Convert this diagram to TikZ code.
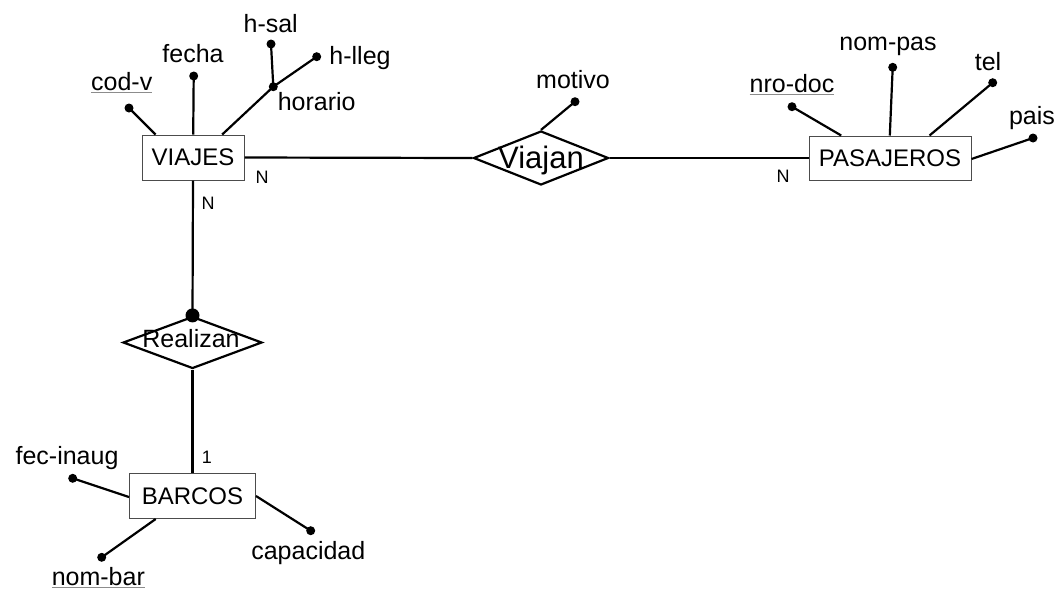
\documentclass[tikz,border=0pt]{standalone}
\usepackage{fontspec}
\setmainfont{Liberation Sans}
\usetikzlibrary{shapes.geometric}
\newcommand{\keyattr}[1]{{\color{black!45}\underline{\color{black}#1}}}
\begin{document}
\begin{tikzpicture}[x=1pt,y=-1pt,
  entity/.style={draw=black!70, line width=1pt, fill=white, inner sep=0pt,
    font=\fontsize{24}{28}\selectfont},
  relation/.style={draw=black, line width=2.2pt, diamond, inner sep=0pt},
  rellabel/.style={inner sep=0pt},
  attrdot/.style={circle, fill=black, inner sep=0pt, minimum size=9pt},
  attrlabel/.style={inner sep=0pt, font=\fontsize{25}{29}\selectfont},
  card/.style={inner sep=0pt, font=\fontsize{18}{21}\selectfont},
  link/.style={line width=2.2pt, draw=black}]
\useasboundingbox (0,0) rectangle (1056,590);

% entities
\node[entity, minimum width=102pt, minimum height=45pt] (viajes) at (193,157.5) {VIAJES};
\node[entity, minimum width=162pt, minimum height=44pt] (pasajeros) at (890,158) {PASAJEROS};
\node[entity, minimum width=126pt, minimum height=45pt] (barcos) at (192.5,496) {BARCOS};

% relationships
\node[relation, minimum width=135pt, minimum height=54pt] (viajan) at (541,158) {};
\node[rellabel, font=\fontsize{31}{36}\selectfont] (viajantxt) at (541,160) {Viajan};
\node[relation, minimum width=139pt, minimum height=52pt] (realizan) at (192.5,342.5) {};
\node[rellabel, font=\fontsize{25}{29}\selectfont] (realizantxt) at (191,339) {Realizan};

% relationship connectors
\draw[link] (viajes.east) -- (viajan.west);
\draw[link] (viajan.east) -- (pasajeros.west);
\draw[link] (viajes.south) -- (realizan.north);
\draw[link] (realizan.south) -- (barcos.north);
\node[circle, fill=black, inner sep=0pt, minimum size=14pt] (realizandot) at (realizan.north) {};

% cardinalities
\node[card] (cardvh) at (262,177) {N};
\node[card] (cardph) at (783,176) {N};
\node[card] (cardvv) at (208,203) {N};
\node[card] (cardb) at (207,457) {1};

% VIAJES attributes
\coordinate (vcod) at ([xshift=14pt]viajes.north west);
\coordinate (vfec) at ([xshift=51.7pt]viajes.north west);
\coordinate (vhor) at ([xshift=80.7pt]viajes.north west);
\node[attrdot] (codv) at (129,108) {};
\node[attrdot] (fecha) at (193.7,76) {};
\node[attrdot] (horario) at (273.3,86.7) {};
\node[attrdot] (hsal) at (271,44) {};
\node[attrdot] (hlleg) at (316.7,56.7) {};
\draw[link] (vcod) -- (codv.center);
\draw[link] (vfec) -- (fecha.center);
\draw[link] (vhor) -- (horario.center);
\draw[link] (horario.center) -- (hsal.center);
\draw[link] (horario.center) -- (hlleg.center);
\node[attrlabel] (codvtxt) at (121.7,83) {\keyattr{cod-v}};
\node[attrlabel] (fechatxt) at (193,54) {fecha};
\node[attrlabel] (hsaltxt) at (270.7,24) {h-sal};
\node[attrlabel] (hllegtxt) at (360,58) {h-lleg};
\node[attrlabel] (horariotxt) at (316.7,101.7) {horario};

% Viajan attribute
\node[attrdot] (motivo) at (575,101.7) {};
\draw[link] (viajan.north) -- (motivo.center);
\node[attrlabel] (motivotxt) at (573,80) {motivo};

% PASAJEROS attributes
\coordinate (pnro) at ([xshift=32.7pt]pasajeros.north west);
\coordinate (pnom) at ([xshift=81.3pt]pasajeros.north west);
\coordinate (ptel) at ([xshift=121pt]pasajeros.north west);
\coordinate (ppais) at ([yshift=-1pt]pasajeros.east);
\node[attrdot] (nrodoc) at (792,106.7) {};
\node[attrdot] (nompas) at (892.7,67.3) {};
\node[attrdot] (tel) at (992.7,82.7) {};
\node[attrdot] (pais) at (1033,138) {};
\draw[link] (pnro) -- (nrodoc.center);
\draw[link] (pnom) -- (nompas.center);
\draw[link] (ptel) -- (tel.center);
\draw[link] (ppais) -- (pais.center);
\node[attrlabel] (nrodoctxt) at (792,85) {\keyattr{nro-doc}};
\node[attrlabel] (nompastxt) at (888,46) {nom-pas};
\node[attrlabel] (teltxt) at (988,61.7) {tel};
\node[attrlabel] (paistxt) at (1032,118) {pais};

% BARCOS attributes
\coordinate (bfec) at ([yshift=-1pt]barcos.west);
\coordinate (bnom) at ([xshift=26.7pt]barcos.south west);
\coordinate (bcap) at (barcos.east);
\node[attrdot] (fecinaug) at (72.7,478.3) {};
\node[attrdot] (nombar) at (101.7,557.3) {};
\node[attrdot] (capacidad) at (310.7,530.7) {};
\draw[link] (bfec) -- (fecinaug.center);
\draw[link] (bnom) -- (nombar.center);
\draw[link] (bcap) -- (capacidad.center);
\node[attrlabel] (fecinaugtxt) at (67,458) {fec-inaug};
\node[attrlabel] (nombartxt) at (98.3,578) {\keyattr{nom-bar}};
\node[attrlabel] (capacidadtxt) at (308.3,553.3) {capacidad};
\end{tikzpicture}
\end{document}
